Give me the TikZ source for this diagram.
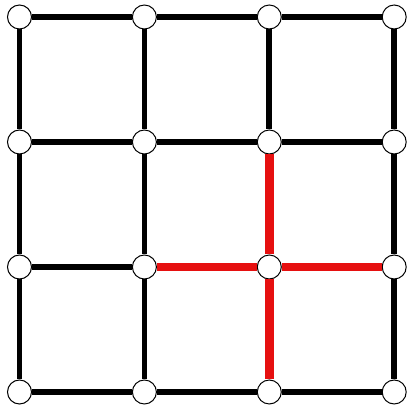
\documentclass[tikz,border=0pt]{standalone}
\usepackage{tikz}
\definecolor{cutred}{RGB}{230,16,16}

\begin{document}
\begin{tikzpicture}[x=0.5pt,y=-0.5pt,
  vert/.style={circle, draw=black, line width=0.5pt, fill=white, inner sep=0pt, minimum size=12pt},
  edge/.style={line width=2.9pt, black},
  cutedge/.style={line width=4.2pt, cutred}]
\useasboundingbox (0,0) rectangle (407,405);
% ---- grid vertices ----
\foreach \i in {0,...,3} {
  \foreach \j in {0,...,3} {
    \node[vert] (n-\i-\j) at ({19.5+124.9*\i},{17+125*\j}) {};
  }
}
% ---- black edges ----
\foreach \a/\b in {0-0/1-0, 1-0/2-0, 2-0/3-0,
                   0-1/1-1, 1-1/2-1, 2-1/3-1,
                   0-2/1-2,
                   0-3/1-3, 1-3/2-3, 2-3/3-3,
                   0-0/0-1, 0-1/0-2, 0-2/0-3,
                   1-0/1-1, 1-1/1-2, 1-2/1-3,
                   2-0/2-1,
                   3-0/3-1, 3-1/3-2, 3-2/3-3} {
  \draw[edge] (n-\a) -- (n-\b);
}
% ---- red edges ----
\foreach \a/\b in {2-1/2-2, 2-2/2-3, 1-2/2-2, 2-2/3-2} {
  \draw[cutedge] (n-\a) -- (n-\b);
}
\end{tikzpicture}
\end{document}
